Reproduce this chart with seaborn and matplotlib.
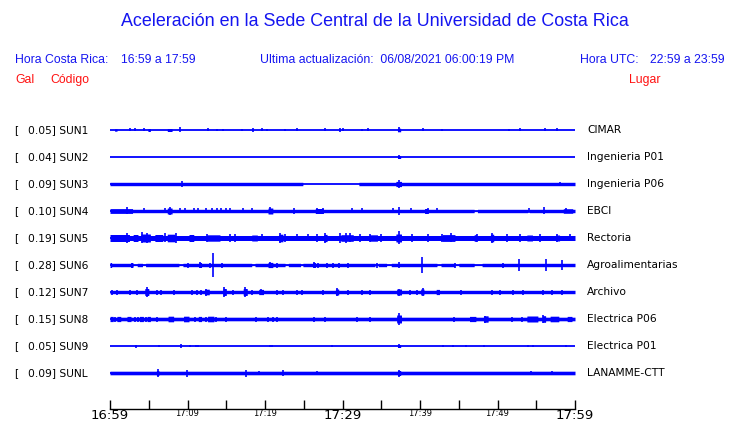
import numpy as np
import pandas as pd
import matplotlib
matplotlib.use("Agg")
import matplotlib.pyplot as plt
import seaborn as sns

# ---------------- data ----------------
stations = ["SUN1", "SUN2", "SUN3", "SUN4", "SUN5", "SUN6", "SUN7", "SUN8", "SUN9", "SUNL"]
peaks = ["0.05", "0.04", "0.09", "0.10", "0.19", "0.28", "0.12", "0.15", "0.05", "0.09"]
places = ["CIMAR", "Ingenieria P01", "Ingenieria P06", "EBCI", "Rectoria",
          "Agroalimentarias", "Archivo", "Electrica P06", "Electrica P01", "LANAMME-CTT"]

tick_minutes = [0, 5, 10, 15, 20, 25, 30, 35, 40, 45, 50, 55, 60]
tick_labels = ["16:59", "", "17:09", "", "17:19", "", "17:29", "", "17:39", "", "17:49", "", "17:59"]
big_labels = ["16:59", "17:29", "17:59"]

# background noise half-width of each trace (relative amplitude)
base_amp = [0.0, 0.0, 1.7, 1.7, 2.5, 1.7, 1.7, 1.8, 0.0, 1.8]

# quieter intervals (start min, end min, half-width)
quiet = {
    "SUN3": [(24.9, 32.1, 0.0)],
    "SUN4": [(47.0, 47.4, 0.6), (53.9, 54.1, 0.6)],
    "SUN6": [(3.0, 3.5, 0.6), (4.2, 4.6, 0.6), (8.9, 9.4, 0.6), (18.3, 18.7, 0.6),
             (22.6, 23.0, 0.6), (24.6, 24.9, 0.6), (34.2, 34.6, 0.6), (35.7, 36.3, 0.6),
             (42.2, 42.7, 0.6), (44.5, 45.0, 0.6), (47.0, 48.0, 0.6)],
}

# bursts of stronger shaking (start min, end min, half-width)
bursts = {
    "SUN1": [(0.6, 0.9, 1.2), (4.9, 5.2, 1.5), (7.4, 8.0, 1.5), (37.1, 37.5, 1.8)],
    "SUN2": [(37.1, 37.5, 1.5)],
    "SUN3": [(36.9, 37.6, 2.6)],
    "SUN4": [(0.0, 2.9, 2.4), (7.4, 8.0, 3.0), (20.4, 21.0, 3.0), (26.5, 27.5, 2.5),
             (40.6, 41.0, 2.5), (58.5, 59.7, 2.3)],
    "SUN5": [(0.0, 2.5, 3.5), (3.0, 3.6, 3.5), (4.0, 5.2, 4.0), (5.8, 6.8, 3.5),
             (7.4, 8.4, 3.8), (10.2, 10.8, 3.5), (12.5, 14.2, 3.2), (18.3, 19.0, 3.0),
             (21.8, 22.3, 3.8), (27.6, 28.0, 3.6), (29.8, 31.4, 3.3), (33.5, 34.5, 3.2),
             (36.9, 37.6, 4.0), (42.9, 44.5, 3.4), (47.0, 47.3, 3.3), (49.1, 49.5, 3.8),
             (53.8, 54.5, 3.0), (57.5, 58.0, 3.0)],
    "SUN6": [(0.0, 0.2, 2.5), (2.7, 2.95, 2.5), (11.5, 11.8, 2.5), (20.4, 21.0, 2.6),
             (26.2, 26.5, 2.5)],
    "SUN7": [(4.5, 5.0, 3.5), (12.2, 12.8, 2.8), (14.6, 15.0, 3.5), (17.2, 17.7, 3.5),
             (19.2, 19.8, 2.6), (29.1, 29.5, 3.0), (37.0, 37.6, 3.0), (40.1, 40.5, 3.0),
             (42.1, 42.5, 2.6)],
    "SUN8": [(0.0, 0.4, 2.6), (0.9, 1.4, 2.6), (2.2, 2.7, 2.6), (3.8, 4.3, 2.6),
             (4.8, 5.2, 2.6), (7.5, 8.2, 2.8), (9.5, 10.2, 2.8), (11.4, 11.8, 2.6),
             (12.6, 13.4, 2.8), (37.0, 37.6, 4.0), (46.4, 47.2, 2.6), (48.2, 48.8, 3.2),
             (53.8, 55.2, 3.0), (55.8, 56.2, 3.3), (56.8, 57.9, 2.8), (59.0, 59.6, 2.6)],
    "SUN9": [(37.1, 37.5, 1.5)],
    "SUNL": [(6.0, 6.3, 2.5), (37.1, 37.5, 2.5)],
}

# isolated peaks (minute, half-amplitude)
spikes = {
    "SUN1": [(2.6, 1.5), (3.2, 1.5), (4.4, 1.5), (9.0, 2.5), (12.6, 1.5), (13.8, 1.2),
             (14.6, 1.2), (17.0, 1.2), (18.5, 1.8), (19.6, 1.5), (20.3, 1.2), (22.6, 1.2),
             (24.1, 1.5), (27.7, 1.5), (29.7, 1.8), (30.1, 1.5), (32.5, 1.2), (33.3, 1.5),
             (37.3, 2.5), (40.4, 1.5), (42.9, 1.2), (51.5, 1.2), (52.9, 1.5), (56.1, 1.5),
             (57.7, 1.5)],
    "SUN2": [(37.3, 2.2)],
    "SUN3": [(9.3, 3.0), (37.3, 4.2), (58.1, 2.2)],
    "SUN4": [(2.2, 3.5), (4.4, 2.5), (7.1, 2.5), (7.7, 4.3), (9.0, 2.5), (9.7, 2.5),
             (10.8, 2.5), (11.4, 2.5), (12.4, 2.5), (13.2, 2.5), (13.8, 2.5), (14.3, 2.5),
             (15.0, 2.5), (15.5, 2.5), (17.2, 2.5), (18.3, 2.5), (20.6, 3.5), (23.7, 3.0),
             (26.7, 3.0), (27.5, 3.0), (31.2, 2.5), (32.5, 2.5), (36.5, 2.5), (37.3, 4.2),
             (38.9, 2.5), (41.0, 3.0), (42.2, 2.5), (54.0, 2.5), (56.0, 3.5), (58.9, 2.5)],
    "SUN5": [(2.2, 5.0), (4.1, 5.5), (4.8, 5.0), (7.1, 4.5), (8.5, 5.0), (12.5, 4.0),
             (15.5, 4.0), (16.1, 4.0), (19.6, 3.5), (21.9, 5.0), (22.6, 4.0), (24.1, 3.5),
             (25.5, 3.5), (26.7, 4.0), (27.8, 5.0), (29.7, 5.0), (30.4, 5.0), (31.0, 4.5),
             (32.2, 4.0), (33.6, 4.0), (35.0, 4.0), (37.3, 6.5), (39.0, 4.0), (41.0, 4.0),
             (42.9, 4.0), (44.0, 4.5), (47.3, 4.0), (49.3, 5.0), (51.2, 4.0), (52.9, 4.0),
             (55.5, 4.0), (57.7, 4.0), (59.3, 3.5)],
    "SUN6": [(2.9, 2.5), (10.1, 2.5), (11.6, 3.0), (12.9, 2.5), (13.3, 12.0), (14.4, 2.5),
             (20.6, 3.2), (21.5, 2.5), (26.3, 3.2), (26.8, 2.5), (28.0, 2.5), (28.8, 2.5),
             (29.5, 2.5), (30.7, 2.5), (34.5, 2.5), (37.3, 3.0), (40.3, 7.5), (44.5, 2.5),
             (50.7, 2.5), (52.8, 6.5), (56.3, 6.5), (58.3, 4.5)],
    "SUN7": [(0.3, 2.5), (0.9, 2.5), (2.6, 2.5), (3.5, 2.5), (4.8, 5.0), (6.1, 2.5),
             (6.6, 2.5), (8.3, 2.5), (10.6, 2.5), (11.2, 2.5), (11.7, 2.5), (12.4, 3.5),
             (14.7, 5.0), (15.9, 2.5), (17.4, 4.5), (18.3, 2.5), (19.5, 3.0), (21.6, 2.5),
             (22.3, 2.5), (24.1, 2.5), (24.8, 2.5), (27.5, 2.5), (29.3, 4.0), (30.7, 2.5),
             (32.5, 2.5), (33.6, 2.5), (37.3, 3.5), (38.7, 2.5), (39.6, 2.5), (40.4, 4.0),
             (42.3, 2.5), (45.3, 2.5), (49.3, 2.5), (50.3, 2.5), (52.0, 2.5), (53.3, 2.5),
             (55.9, 2.5), (57.0, 2.5), (58.3, 2.5)],
    "SUN8": [(0.7, 2.5), (1.3, 2.5), (3.2, 2.5), (3.6, 2.5), (4.6, 2.5), (6.1, 2.5),
             (7.8, 2.5), (10.1, 2.5), (11.0, 2.5), (12.4, 2.5), (13.7, 2.5), (15.0, 2.5),
             (18.9, 2.5), (20.4, 2.5), (21.0, 2.5), (21.6, 2.5), (26.3, 2.5), (27.8, 2.5),
             (31.9, 2.5), (33.5, 2.5), (37.3, 6.0), (44.4, 2.5), (47.1, 2.5), (48.4, 3.5),
             (51.9, 2.5), (53.2, 2.5), (55.9, 4.0), (59.3, 2.5)],
    "SUN9": [(3.4, 1.5), (6.3, 1.0), (9.2, 1.8), (10.3, 1.0), (11.1, 1.2), (11.4, 1.2),
             (20.6, 1.2), (20.9, 1.2), (28.6, 1.2), (37.3, 2.0), (43.0, 1.0), (44.3, 1.0),
             (45.9, 1.0), (48.3, 1.0), (53.9, 1.0), (54.6, 1.0), (58.8, 1.0)],
    "SUNL": [(6.2, 4.0), (9.9, 3.5), (17.5, 3.5), (19.2, 2.0), (22.3, 3.0), (26.7, 2.0),
             (37.3, 3.5), (54.3, 2.0), (57.0, 2.0)],
}

title = "Aceleración en la Sede Central de la Universidad de Costa Rica"

# ---------------- style ----------------
sns.set_theme(style="white")
plt.rcParams["font.family"] = ["DejaVu Sans"]

W, H = 740, 423
fig = plt.figure(figsize=(W / 100, H / 100), dpi=100)
fig.patch.set_facecolor("white")

def fx(px):
    return px / W

def fy(py):
    return 1 - py / H

BLUE = "#0000ff"
HEAD = "#1515f0"
RED = "#ff1010"
GAIN = 1 / 27.0  # trace spacing in pixels

ax = fig.add_axes([fx(110), fy(409), (575 - 110) / W, (409 - 115) / H])
ax.set_facecolor("white")
ax.set_xlim(0, 60)
y_top = (115 - 130) / 27
y_bot = (409 - 130) / 27
ax.set_ylim(y_bot, y_top)

t = np.linspace(0, 60, 3001)
for i, st in enumerate(stations):
    env = np.full_like(t, base_amp[i])
    for a, b, v in quiet.get(st, []):
        env[(t >= a) & (t <= b)] = v
    for a, b, v in bursts.get(st, []):
        env[(t >= a) & (t <= b)] = np.maximum(env[(t >= a) & (t <= b)], v)
    df = pd.DataFrame({"t": [0, 60], "y": [i, i]})
    sns.lineplot(data=df, x="t", y="y", ax=ax, color=BLUE, lw=1.3, legend=False)
    ax.fill_between(t, i - env * GAIN, i + env * GAIN, color=BLUE, lw=0)
    sp = spikes.get(st, [])
    if sp:
        tt = np.array([s[0] for s in sp])
        aa = np.array([s[1] for s in sp])
        ax.vlines(tt, i - aa * GAIN, i + aa * GAIN, color=BLUE, lw=1.2)
    # labels
    ypx = 130 + 27 * i
    fig.text(fx(14), fy(ypx), "[", fontsize=7.7, color="black", va="center", ha="left")
    fig.text(fx(88), fy(ypx), f"{peaks[i]}] {st}", fontsize=7.7, color="black",
             va="center", ha="right")
    fig.text(fx(587), fy(ypx), places[i], fontsize=7.7, color="black",
             va="center", ha="left")

ax.set_xlabel("")
ax.set_ylabel("")
ax.set_yticks([])
for s in ["top", "left", "right"]:
    ax.spines[s].set_visible(False)
ax.spines["bottom"].set_color("black")
ax.spines["bottom"].set_linewidth(1.0)
ax.set_xticks(tick_minutes)
ax.set_xticklabels(tick_labels)
ax.tick_params(axis="x", direction="in", length=6.5, width=1.0, color="black",
               pad=0.3, bottom=True)
for lab in ax.get_xticklabels():
    if lab.get_text() in big_labels:
        lab.set_fontsize(9.5)
    else:
        lab.set_fontsize(6)
    lab.set_color("black")

# ---------------- header ----------------
hf = ["Liberation Sans", "DejaVu Sans"]
fig.text(fx(375), fy(22), title, fontsize=12.9, color=HEAD, family=hf,
         ha="center", va="center")
fig.text(fx(15), fy(60), "Hora Costa Rica:", fontsize=8.8, color=HEAD, family=hf,
         ha="left", va="center")
fig.text(fx(121), fy(60), "16:59 a 17:59", fontsize=8.8, color=HEAD, family=hf,
         ha="left", va="center")
fig.text(fx(260), fy(60), "Ultima actualización:  06/08/2021 06:00:19 PM", fontsize=8.8,
         color=HEAD, family=hf, ha="left", va="center")
fig.text(fx(580), fy(60), "Hora UTC:", fontsize=8.8, color=HEAD, family=hf,
         ha="left", va="center")
fig.text(fx(650), fy(60), "22:59 a 23:59", fontsize=8.8, color=HEAD, family=hf,
         ha="left", va="center")
fig.text(fx(15), fy(80), "Gal", fontsize=8.8, color=RED, family=hf, ha="left", va="center")
fig.text(fx(50), fy(80), "Código", fontsize=8.8, color=RED, family=hf, ha="left", va="center")
fig.text(fx(629), fy(80), "Lugar", fontsize=8.8, color=RED, family=hf, ha="left", va="center")

fig.savefig("out.png", dpi=100, facecolor="white")
